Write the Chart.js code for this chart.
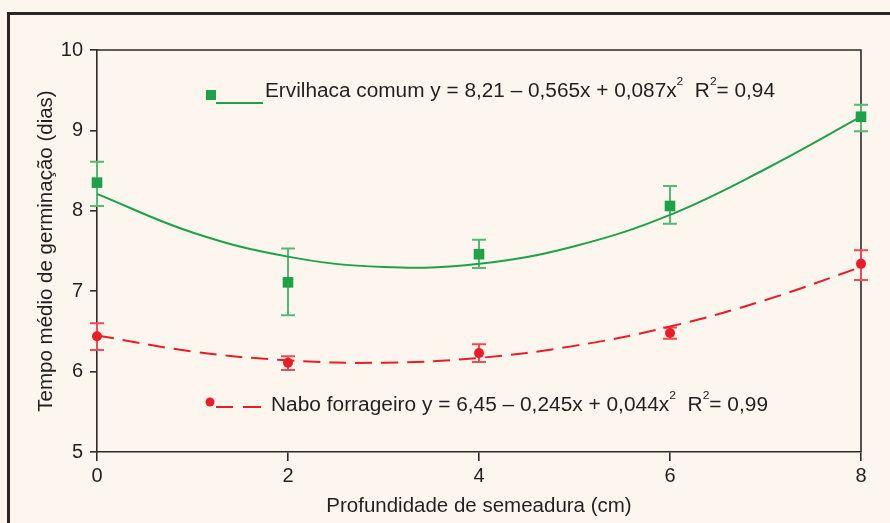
<!DOCTYPE html>
<html>
<head>
<meta charset="utf-8">
<script src="https://cdn.jsdelivr.net/npm/chart.js@4.4.0/dist/chart.umd.min.js"></script>
<style>
  html, body { margin: 0; padding: 0; background: #fdf6ee; }
  body { width: 890px; height: 523px; overflow: hidden; position: relative; }
  #frame { position: absolute; left: 7px; top: 12px; width: 900px; height: 600px; border: 3px solid #2a2626; }
  #wrap { position: absolute; left: 0; top: 0; width: 890px; height: 523px; }
</style>
</head>
<body>
<div id="frame"></div>
<div id="wrap"><canvas id="germChart"></canvas></div>
<script>
const depths = [0, 2, 4, 6, 8];
const ervilhacaMean = [8.35, 7.11, 7.46, 8.06, 9.17];
const ervilhacaLow = [8.06, 6.70, 7.29, 7.84, 8.99];
const ervilhacaHigh = [8.61, 7.53, 7.64, 8.31, 9.32];
const naboMean = [6.44, 6.11, 6.23, 6.48, 7.34];
const naboLow = [6.27, 6.02, 6.12, 6.41, 7.14];
const naboHigh = [6.60, 6.19, 6.34, 6.55, 7.51];

// fitted curves
const curveX = [0, 1, 2, 3, 4, 5, 6, 7, 8];
const ervilhacaCurve = [8.21, 7.73, 7.43, 7.30, 7.34, 7.56, 7.95, 8.52, 9.17];
const naboCurve = [6.45, 6.25, 6.14, 6.11, 6.17, 6.32, 6.56, 6.89, 7.30];

const yTicks = [5, 6, 7, 8, 9, 10];
const xTicks = [0, 2, 4, 6, 8];

const ervilhacaLabel = [
  { t: "Ervilhaca comum y = 8,21 \u2013 0,565x + 0,087x" }, { t: "2", sup: true },
  { t: "  R" }, { t: "2", sup: true }, { t: "= 0,94" }
];
const naboLabel = [
  { t: "Nabo forrageiro y = 6,45 \u2013 0,245x + 0,044x" }, { t: "2", sup: true },
  { t: "  R" }, { t: "2", sup: true }, { t: "= 0,99" }
];

const GREEN = "#1fa14a";
const RED = "#ec1c27";
const INK = "#231f20";
const FONT = '"Liberation Sans", Arial, sans-serif';

const pairs = (xs, ys) => xs.map((x, i) => ({ x: x, y: ys[i] }));

function drawRich(ctx, parts, x, baseline, width, size) {
  ctx.save();
  const sup = size * 0.58;
  let natural = 0;
  parts.forEach(p => {
    ctx.font = (p.sup ? sup : size) + "px " + FONT;
    natural += ctx.measureText(p.t).width;
  });
  ctx.translate(x, baseline);
  ctx.scale(width / natural, 1);
  ctx.fillStyle = INK;
  ctx.textBaseline = "alphabetic";
  let cx = 0;
  parts.forEach(p => {
    ctx.font = (p.sup ? sup : size) + "px " + FONT;
    ctx.fillText(p.t, cx, p.sup ? -size * 0.62 : 0);
    cx += ctx.measureText(p.t).width;
  });
  ctx.restore();
}

const boxAndBars = {
  id: "boxAndBars",
  beforeDatasetsDraw(chart) {
    const { ctx, chartArea: a, scales: { x, y } } = chart;
    ctx.save();
    ctx.strokeStyle = "#2e2a2a";
    ctx.lineWidth = 1.6;
    ctx.beginPath();
    ctx.moveTo(a.left, a.top); ctx.lineTo(a.right, a.top); ctx.lineTo(a.right, a.bottom);
    ctx.stroke();
    ctx.restore();

    [[ervilhacaLow, ervilhacaHigh, "#55b970"], [naboLow, naboHigh, "#ef4b55"]].forEach(([lo, hi, color]) => {
      ctx.save();
      ctx.strokeStyle = color;
      ctx.lineWidth = 2;
      depths.forEach((d, i) => {
        const px = x.getPixelForValue(d);
        const top = y.getPixelForValue(hi[i]);
        const bot = y.getPixelForValue(lo[i]);
        ctx.beginPath();
        ctx.moveTo(px, top); ctx.lineTo(px, bot);
        ctx.moveTo(px - 7, top); ctx.lineTo(px + 7, top);
        ctx.moveTo(px - 7, bot); ctx.lineTo(px + 7, bot);
        ctx.stroke();
      });
      ctx.restore();
    });
  },
  afterDatasetsDraw(chart) {
    const ctx = chart.ctx;
    ctx.save();
    // Ervilhaca legend
    ctx.fillStyle = GREEN;
    ctx.fillRect(206, 90, 10, 10);
    ctx.strokeStyle = GREEN;
    ctx.lineWidth = 2;
    ctx.beginPath(); ctx.moveTo(216, 103); ctx.lineTo(263, 103); ctx.stroke();
    // Nabo legend
    ctx.fillStyle = RED;
    ctx.beginPath(); ctx.arc(210, 402, 4.5, 0, Math.PI * 2); ctx.fill();
    ctx.strokeStyle = RED;
    ctx.beginPath();
    ctx.moveTo(216, 407); ctx.lineTo(233, 407);
    ctx.moveTo(243, 407); ctx.lineTo(261, 407);
    ctx.stroke();
    ctx.restore();
    drawRich(ctx, ervilhacaLabel, 265, 97, 510, 20);
    drawRich(ctx, naboLabel, 271, 411, 497, 20);
  }
};

new Chart(document.getElementById("germChart"), {
  type: "line",
  data: {
    datasets: [
      {
        data: pairs(curveX, ervilhacaCurve),
        borderColor: GREEN, borderWidth: 2, pointRadius: 0, tension: 0.4, fill: false
      },
      {
        data: pairs(curveX, naboCurve),
        borderColor: RED, borderWidth: 2, borderDash: [17, 9], pointRadius: 0, tension: 0.4, fill: false
      },
      {
        data: pairs(depths, ervilhacaMean), clip: false,
        showLine: false, pointStyle: "rect", pointRadius: 7.5,
        backgroundColor: GREEN, borderColor: GREEN, borderWidth: 0
      },
      {
        data: pairs(depths, naboMean), clip: false,
        showLine: false, pointStyle: "circle", pointRadius: 5,
        backgroundColor: RED, borderColor: RED, borderWidth: 0
      }
    ]
  },
  options: {
    responsive: true,
    maintainAspectRatio: false,
    animation: false,
    layout: { padding: { left: 34, top: 50, right: 29, bottom: 0 } },
    plugins: { legend: { display: false }, tooltip: { enabled: false } },
    scales: {
      x: {
        type: "linear", min: 0, max: 8,
        afterBuildTicks: s => { s.ticks = xTicks.map(v => ({ value: v })); },
        afterFit: s => { s.height = 71; },
        grid: { drawOnChartArea: false, drawTicks: true, tickLength: 9, color: "#2e2a2a", lineWidth: 1.6 },
        border: { display: true, color: "#2e2a2a", width: 1.6 },
        ticks: { color: INK, padding: 3, font: { family: FONT, size: 20 } },
        title: {
          display: true, text: "Profundidade de semeadura (cm)", color: INK,
          font: { family: FONT, size: 20.5 }, padding: { top: 0, bottom: 4 }
        }
      },
      y: {
        type: "linear", min: 5, max: 10,
        afterBuildTicks: s => { s.ticks = yTicks.map(v => ({ value: v })); },
        afterFit: s => { s.width = 63; },
        grid: { drawOnChartArea: false, drawTicks: true, tickLength: 7, color: "#2e2a2a", lineWidth: 1.6 },
        border: { display: true, color: "#2e2a2a", width: 1.6 },
        ticks: { color: INK, padding: 7, font: { family: FONT, size: 20 } },
        title: {
          display: true, text: "Tempo m\u00e9dio de germina\u00e7\u00e3o (dias)", color: INK,
          font: { family: FONT, size: 20.5 }, padding: { top: 0, bottom: 0 }
        }
      }
    }
  },
  plugins: [boxAndBars]
});
</script>
</body>
</html>
